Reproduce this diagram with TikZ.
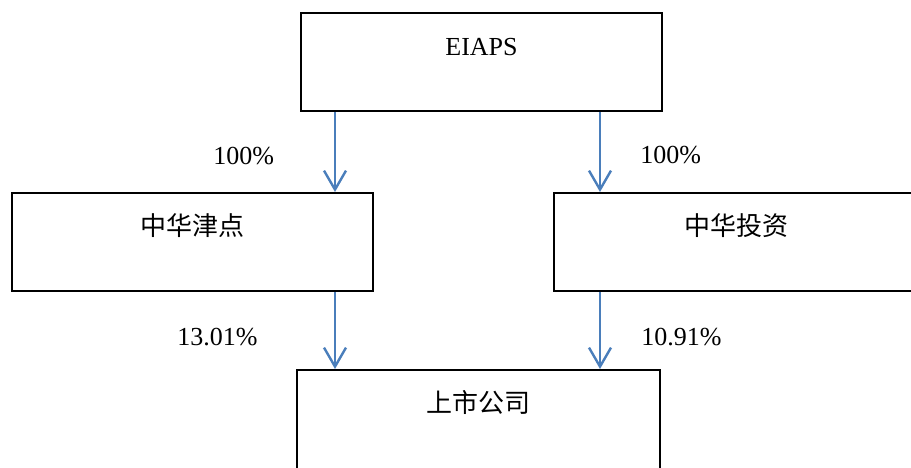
\documentclass[tikz,border=0pt]{standalone}
\usepackage{fontspec}
\setmainfont{Liberation Serif}
\newfontfamily\cjk{Noto Sans CJK SC}
\usetikzlibrary{arrows.meta}
\definecolor{arrblue}{RGB}{74,126,187}
\tikzset{
  orgbox/.style = {draw=black, line width=1pt, inner sep=0pt, anchor=north, minimum width=180.5pt,
    text height=21pt, text depth=28pt, align=center, font=\fontsize{13}{15}\selectfont},
  orgbox_c/.style = {orgbox, font=\fontsize{13}{15}\selectfont\cjk},
  pct/.style = {anchor=base west, inner sep=0pt, font=\fontsize{13}{15}\selectfont},
  own_arr/.style = {draw=arrblue, line width=1.2pt, -{Straight Barb[length=9.5pt,width=11pt]}}
}

\begin{document}
\begin{tikzpicture}[x=0.5pt, y=-0.5pt]
\useasboundingbox (0,0) rectangle (911,467);
\clip (0,0) rectangle (911,467);
% boxes
\node [orgbox] (eiaps) at (481.5,12) {EIAPS};
\node [orgbox_c] (jindian) at (192.5,192) {中华津点};
\node [orgbox_c, minimum width=182pt] (touzi) at (736,192) {中华投资};
\node [orgbox_c, minimum width=181.5pt, text depth=40pt] (listed) at (478.5,369) {上市公司};
% arrows
\coordinate (a1) at ([xshift=17.5pt]eiaps.south west);
\coordinate (a2) at ([xshift=-31.5pt]eiaps.south east);
\coordinate (a3) at (a1 |- jindian.south);
\coordinate (a4) at (a2 |- touzi.south);
\draw [own_arr] (a1) -- (a1 |- jindian.north);
\draw [own_arr] (a2) -- (a2 |- touzi.north);
\draw [own_arr] (a3) -- (a3 |- listed.north);
\draw [own_arr] (a4) -- (a4 |- listed.north);
% shares
\node [pct] (p_jd) at (213,164) {100\%};
\node [pct] (p_tz) at (640,163) {100\%};
\node [pct] (p_jd_l) at (177,345) {13.01\%};
\node [pct] (p_tz_l) at (641,345) {10.91\%};
\end{tikzpicture}
\end{document}
